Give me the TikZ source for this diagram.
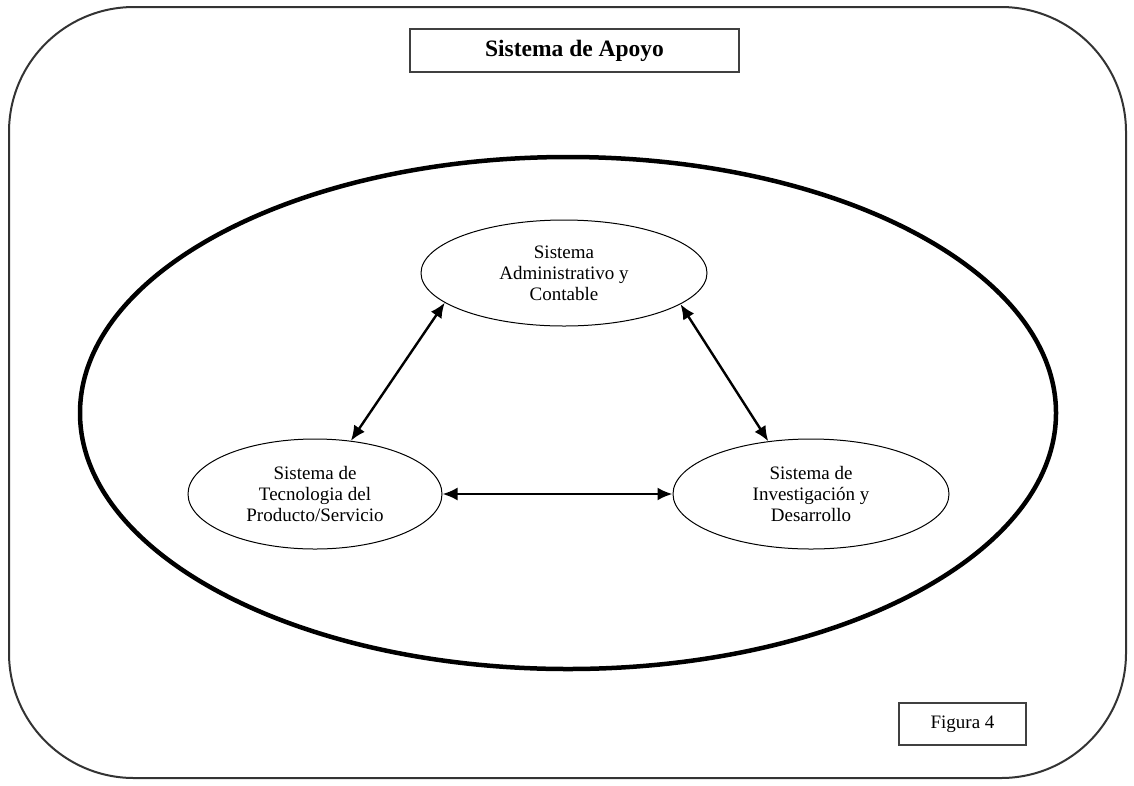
\documentclass[tikz,border=0pt]{standalone}
\usepackage{fontspec}
\setmainfont{Liberation Serif}
\usetikzlibrary{shapes.geometric,arrows.meta}
\tikzset{
  sysell/.style={ellipse, draw=black, line width=1pt, inner sep=0pt, align=center,
    font=\fontsize{19}{21}\selectfont},
  framebox/.style={draw=black!75, line width=2pt, inner sep=0pt},
  link/.style={line width=2.4pt, {Latex[length=15pt,width=13pt]}-{Latex[length=15pt,width=13pt]}}
}
\begin{document}
\begin{tikzpicture}[x=1pt,y=-1pt]
\useasboundingbox (0,0) rectangle (1134,785);
% outer rounded frame
\draw[draw=black!80, line width=2pt, rounded corners=125pt] (9,7) rectangle (1126,778);
% title
\node[framebox, minimum width=329pt, minimum height=43pt,
  font=\fontsize{23.5}{26}\selectfont\bfseries] (title) at (574.5,50.5) {Sistema de Apoyo};
% large ellipse
\node[ellipse, draw=black, line width=4.5pt, minimum width=976pt, minimum height=512pt, inner sep=0pt]
  (big) at (568,413) {};
% subsystems
\node[sysell, minimum width=286pt, minimum height=106pt] (adm) at (564,273)
  {Sistema\\Administrativo y\\Contable};
\node[sysell, minimum width=254pt, minimum height=110pt] (tec) at (315,494)
  {Sistema de\\Tecnologia del\\Producto/Servicio};
\node[sysell, minimum width=276pt, minimum height=110pt] (inv) at (811,494)
  {Sistema de\\Investigación y\\Desarrollo};
% connectors
\draw[link] (adm.194) -- (tec.56);
\draw[link] (adm.345) -- (inv.129);
\draw[link] (tec.east) -- (inv.west);
% figure label
\node[framebox, minimum width=127pt, minimum height=42pt,
  font=\fontsize{19}{21}\selectfont] (fig) at (962.5,724) {Figura 4};
\end{tikzpicture}
\end{document}
